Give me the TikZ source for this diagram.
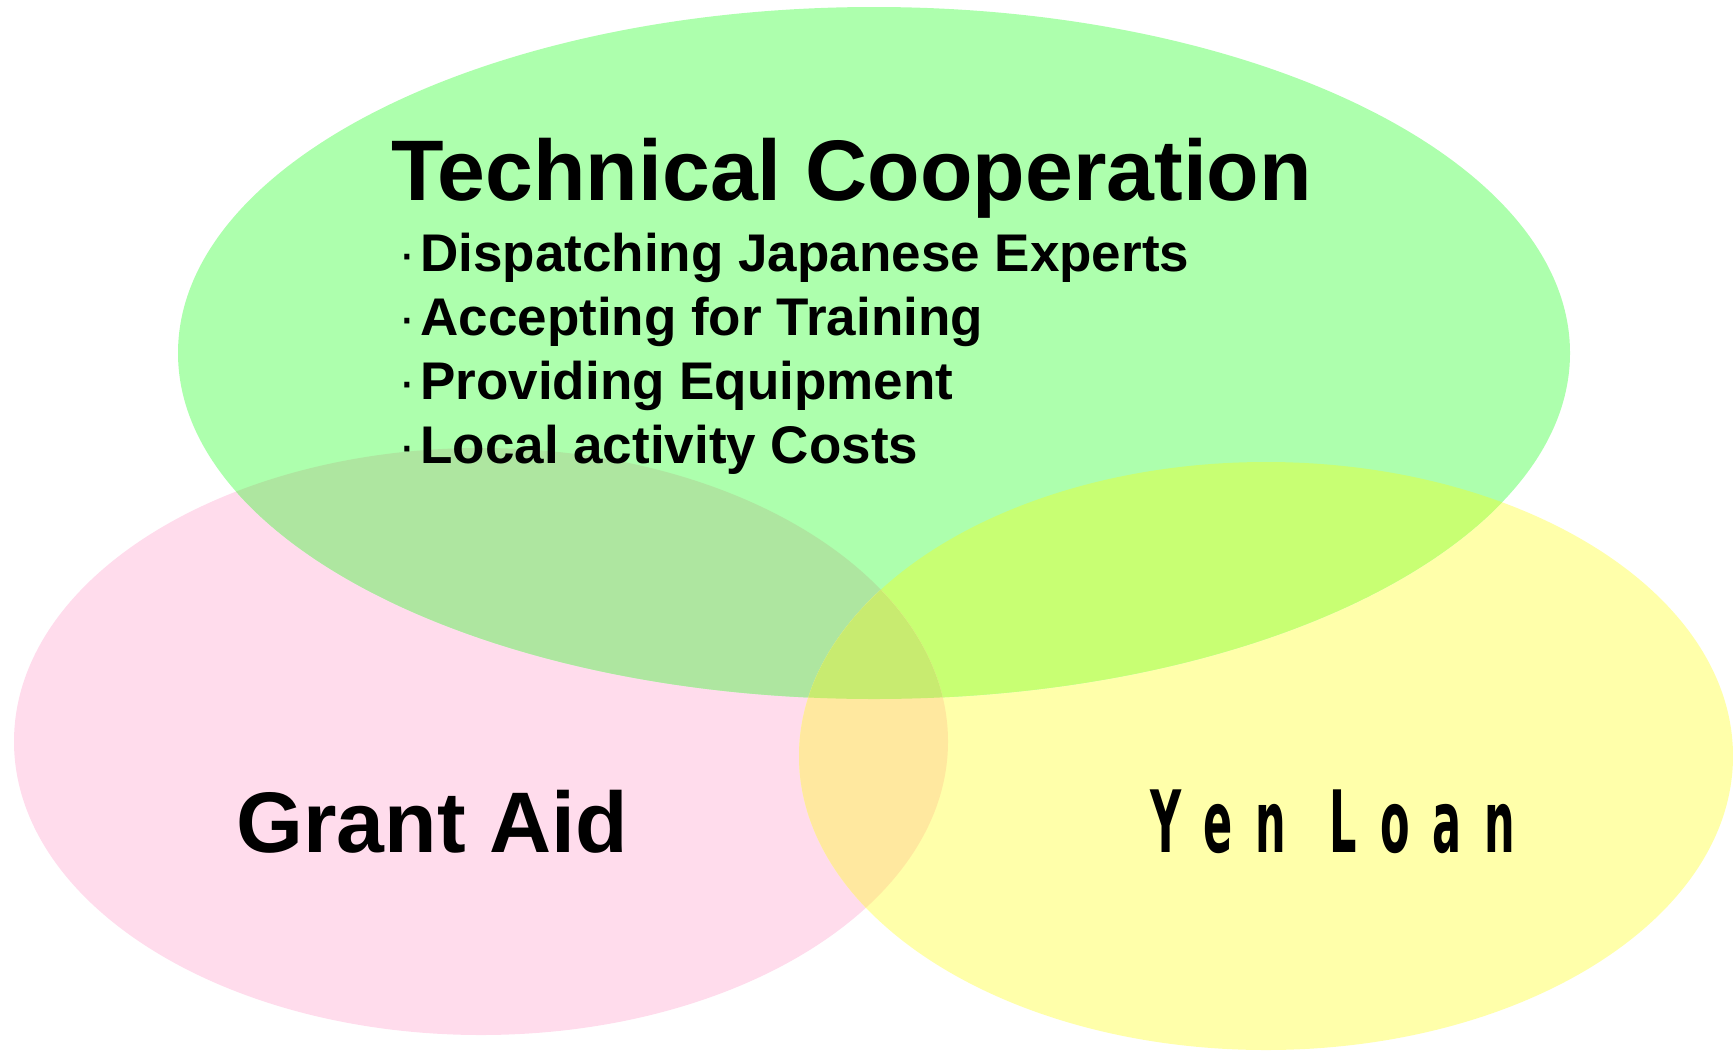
\documentclass[tikz,border=0pt]{standalone}
\usepackage{fontspec}
\setmainfont{Liberation Sans}
\newfontfamily\yenfont{DejaVu Sans}[FakeStretch=0.5]
\definecolor{grnc}{HTML}{ADFFAD}
\definecolor{pinkc}{HTML}{FFDCEC}
\definecolor{yelc}{HTML}{FFFFAA}
\definecolor{gpc}{HTML}{AEE6A0}
\definecolor{gyc}{HTML}{C8FF73}
\definecolor{pyc}{HTML}{FFE89F}
\definecolor{gpyc}{HTML}{C8EB70}
\tikzset{
  titletext/.style={inner sep=0pt, anchor=base west, font=\bfseries\fontsize{43pt}{52pt}\selectfont},
  itemtext/.style={inner sep=0pt, anchor=base west, font=\bfseries\fontsize{26.5pt}{32pt}\selectfont},
  bigtext/.style={inner sep=0pt, anchor=base west, font=\bfseries\fontsize{43pt}{52pt}\selectfont},
  yentext/.style={inner sep=0pt, anchor=base west, font=\yenfont\bfseries\fontsize{43pt}{52pt}\selectfont},
}
\newcommand{\ycell}[1]{\makebox[26pt][c]{#1}}
\newcommand{\bdot}{\makebox[13pt][c]{\mdseries ·}}
\begin{document}
\begin{tikzpicture}[x=0.5pt,y=-0.5pt]
\useasboundingbox (0,0) rectangle (1733,1050);
% base fills
\fill[pinkc] (481,741.5) ellipse [x radius=233.5pt, y radius=146.75pt];
\fill[yelc] (1266,756) ellipse [x radius=233.5pt, y radius=147pt];
\fill[grnc] (874,353) ellipse [x radius=348pt, y radius=173pt];
% overlaps with green
\begin{scope}
  \clip (874,353) ellipse [x radius=348pt, y radius=173pt];
  \fill[gpc] (481,741.5) ellipse [x radius=233.5pt, y radius=146.75pt];
  \fill[gyc] (1266,756) ellipse [x radius=233.5pt, y radius=147pt];
\end{scope}
% pink-yellow overlaps
\begin{scope}
  \clip (481,741.5) ellipse [x radius=233.5pt, y radius=146.75pt];
  \fill[pyc] (1266,756) ellipse [x radius=233.5pt, y radius=147pt];
  \clip (874,353) ellipse [x radius=348pt, y radius=173pt];
  \fill[gpyc] (1266,756) ellipse [x radius=233.5pt, y radius=147pt];
\end{scope}
% texts
\node[titletext] (tc) at (391,200) {Technical Cooperation};
\node[itemtext] (tc1) at (394,271) {\bdot Dispatching Japanese Experts};
\node[itemtext] (tc2) at (394,335) {\bdot Accepting for Training};
\node[itemtext] (tc3) at (394,399) {\bdot Providing Equipment};
\node[itemtext] (tc4) at (394,463) {\bdot Local activity Costs};
\node[bigtext] (ga) at (236,852) {Grant Aid};
\node[yentext] (yl) at (1140,852) {\ycell{Y}\ycell{e}\ycell{n}\hspace{10.5pt}\ycell{L}\ycell{o}\ycell{a}\ycell{n}};
\end{tikzpicture}
\end{document}
